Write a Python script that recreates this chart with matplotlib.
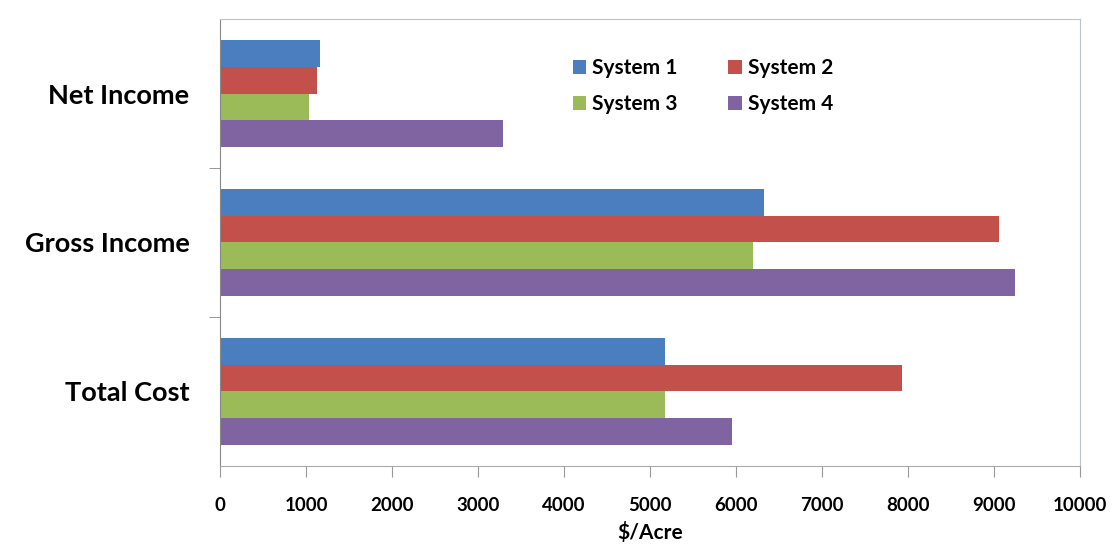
import matplotlib.pyplot as plt
import numpy as np

# categorias (de baixo para cima)
categorias = ["Total Cost", "Gross Income", "Net Income"]
sistemas = ["System 1", "System 2", "System 3", "System 4"]

# valores em $/Acre, na mesma ordem das categorias
system1 = [5170, 6330, 1165]
system2 = [7930, 9060, 1125]
system3 = [5170, 6200, 1030]
system4 = [5950, 9250, 3290]

xticks = [0, 1000, 2000, 3000, 4000, 5000, 6000, 7000, 8000, 9000, 10000]

cores = ["#4A7EBF", "#C4504C", "#9BBB59", "#8064A2"]

plt.rcParams['font.family'] = ['Lato', 'DejaVu Sans']

fig = plt.figure(figsize=(11.15, 5.56), dpi=100)
ax = fig.add_axes([0.1973, 0.1619, 0.7713, 0.8039])

y = np.arange(len(categorias))
h = 0.18
valores = [system1, system2, system3, system4]
offsets = [1.5, 0.5, -0.5, -1.5]
barras = []
for vals, off, cor, nome in zip(valores, offsets, cores, sistemas):
    b = ax.barh(y + off * h, vals, height=h, color=cor, label=nome)
    barras.append(b)

ax.set_xlim(0, 10000)
ax.set_ylim(-0.5, 2.5)
ax.set_xticks(xticks)
ax.set_xticklabels([str(t) for t in xticks], fontsize=13.5, fontweight='bold')
ax.set_yticks(y)
ax.set_yticklabels(categorias, fontsize=19.5, fontweight='bold')
ax.set_yticks([0.5, 1.5], minor=True)
ax.tick_params(axis='y', which='major', length=0, pad=22)
ax.tick_params(axis='y', which='minor', length=8, color='#888888', direction='out')
ax.tick_params(axis='x', length=8, color='#999999', direction='out', pad=14)
ax.set_xlabel('\\$/Acre', fontsize=15, fontweight='bold', labelpad=6)

for lado in ['top', 'right', 'bottom']:
    ax.spines[lado].set_color('#B8C4D2')
ax.spines['left'].set_color('#888888')
ax.spines['bottom'].set_color('#AAAAAA')

# legenda em duas colunas, preenchida por linha
ordem = [0, 2, 1, 3]
ax.legend([barras[i] for i in ordem], [sistemas[i] for i in ordem],
          ncol=2, frameon=False, loc='upper left', bbox_to_anchor=(0.398, 0.935),
          borderpad=0, prop={'size': 15, 'weight': 'bold'}, handlelength=0.65,
          handleheight=0.65, handletextpad=0.3, columnspacing=2.4, labelspacing=0.75)

plt.savefig('out.png', dpi=100)
